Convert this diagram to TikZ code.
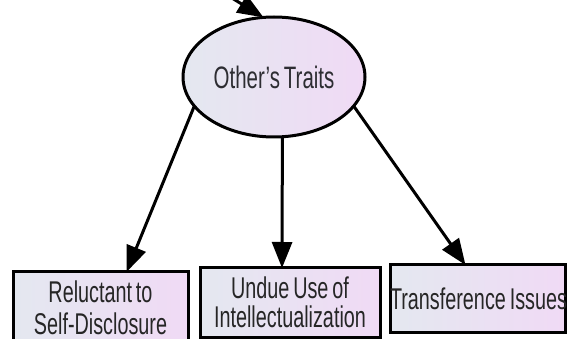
\documentclass[tikz,border=0pt]{standalone}
\usepackage{fontspec}
\setmainfont{Liberation Sans}[FakeStretch=0.66,WordSpace=0.7]
\usetikzlibrary{shapes.geometric,arrows.meta}
\definecolor{leftfill}{RGB}{228,232,240}
\definecolor{rightfill}{RGB}{240,218,245}
\definecolor{inkgray}{RGB}{45,45,50}

\begin{document}
\begin{tikzpicture}[x=1pt,y=-1pt,every node/.style={outer sep=0pt},
 trait/.style={ellipse,draw,line width=3pt,left color=leftfill,
 right color=rightfill,minimum width=182pt,minimum height=120pt,
 inner sep=0pt,font=\fontsize{31}{34}\selectfont,text=inkgray},
 issue/.style={rectangle,draw,line width=3pt,left color=leftfill,
 right color=rightfill,inner sep=0pt,align=flush center,text=black!85},
 link/.style={line width=3pt,-{Triangle[length=26pt,width=20pt]}}]

  \useasboundingbox (0,0) rectangle (568,339);
  \clip (0,0) rectangle (568,339);

  \node[trait] (traits) at (274,77) {Other's Traits};

  \node[issue,text width=175pt,minimum height=71pt,
   font=\fontsize{30}{32}\selectfont] (reluct) at (100.5,307.5)
   {Reluctant to\\Self-Disclosure};
  \node[issue,text width=180pt,minimum height=69pt,
   font=\fontsize{30}{29}\selectfont] (undue) at (290,302.5)
   {Undue Use of\\Intellectualization};
  \node[issue,text width=175pt,minimum height=67pt,
   font=\fontsize{30}{33}\selectfont] (transf) at (477.5,298.5)
   {\mbox{Transference Issues}};

  \coordinate (upper) at (170,-40);
  \draw[link] (upper) -- (traits.100);

  \draw[link] (traits.200) -- ([xshift=26pt]reluct.north);
  \draw[link] (traits.-82) -- ([xshift=-8pt]undue.north);
  \draw[link] (traits.-20) -- ([xshift=-12pt]transf.north);

\end{tikzpicture}
\end{document}
